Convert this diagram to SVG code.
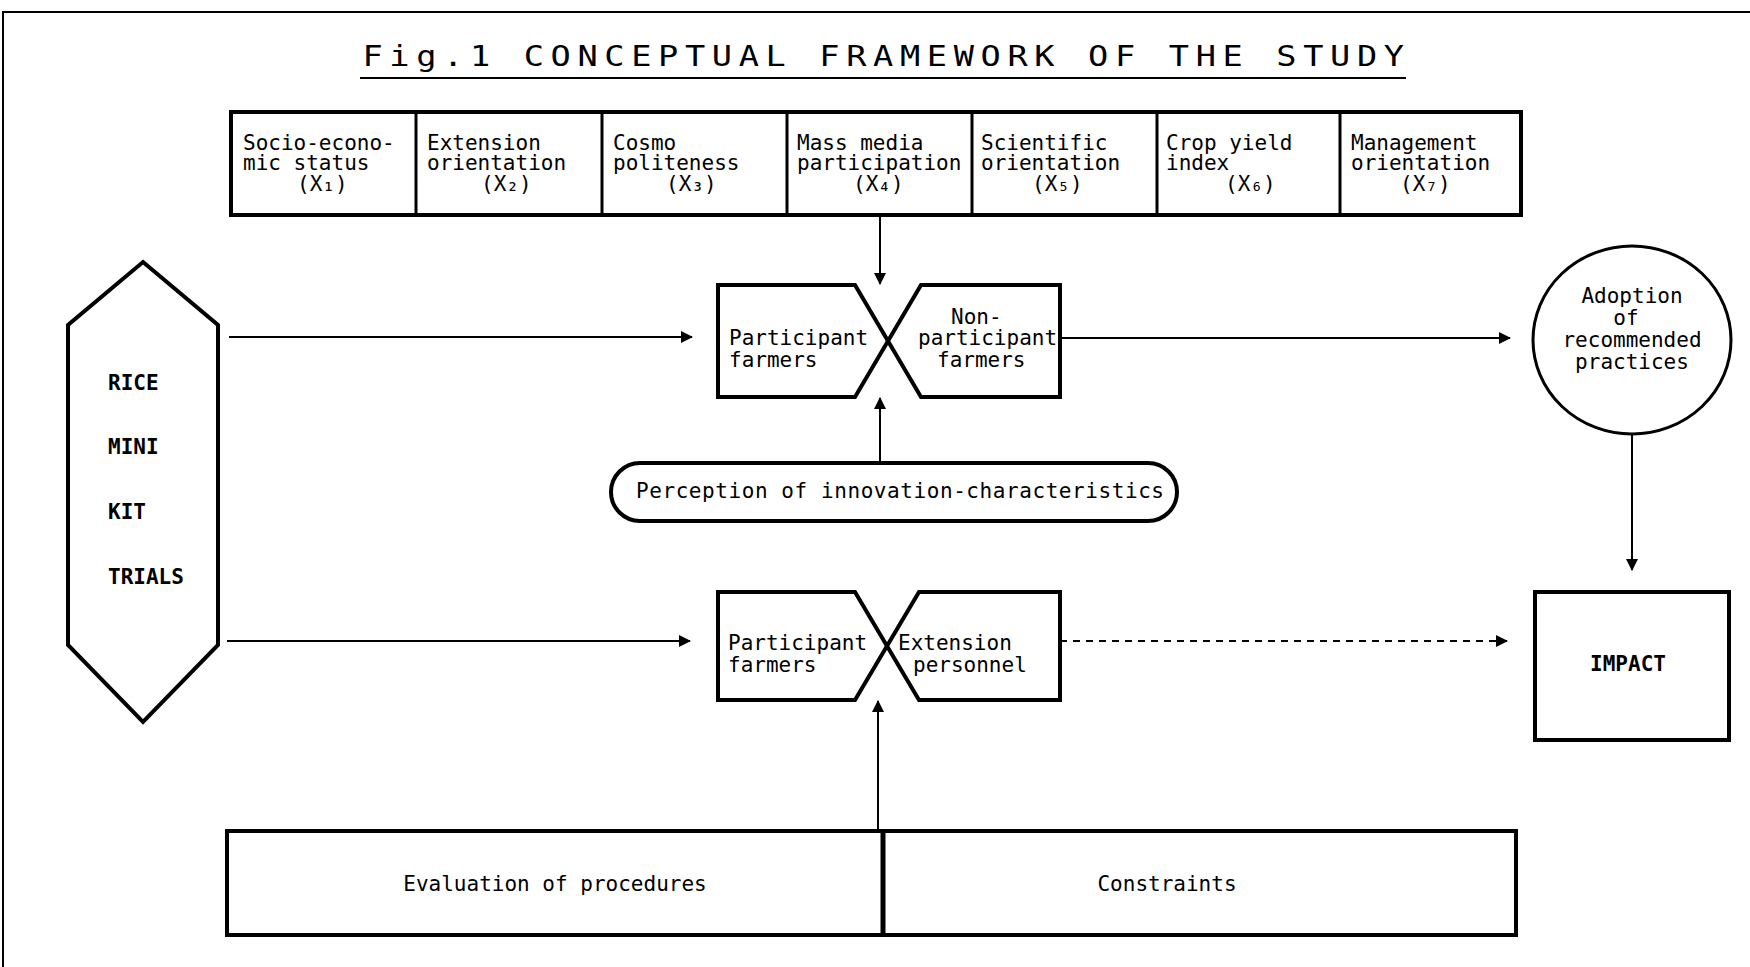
<svg xmlns="http://www.w3.org/2000/svg" width="1750" height="967" viewBox="0 0 1750 967">
<style>
  .t { font-family: "DejaVu Sans Mono", "Liberation Mono", monospace; font-size: 21px; fill: #000; }
  .title { font-family: "DejaVu Sans Mono", "Liberation Mono", monospace; font-size: 28px; fill: #000; }
  .b { font-weight: bold; }
  .box { fill: #fff; stroke: #000; stroke-width: 4; }
  .ln { stroke: #000; stroke-width: 2; fill: none; }
  .dash { stroke-dasharray: 7 6; }
</style>
<defs>
  <marker id="ah" viewBox="0 0 12 12" refX="11" refY="6" markerWidth="12" markerHeight="12" markerUnits="userSpaceOnUse" orient="auto">
    <path d="M0,0 L12,6 L0,12 Z" fill="#000"/>
  </marker>
</defs>
<rect width="1750" height="967" fill="#fff"/>
<path d="M3,967 V12 H1750" fill="none" stroke="#000" stroke-width="2"/>

<g id="title">
  <text class="title" transform="scale(1.2,1)" x="302" y="66" textLength="868" lengthAdjust="spacing">Fig.1  CONCEPTUAL FRAMEWORK OF THE STUDY</text>
  <line x1="360" y1="78" x2="1406" y2="78" stroke="#000" stroke-width="2"/>
</g>

<g id="factors">
  <rect class="box" x="231" y="112" width="1290" height="103"/>
  <g stroke="#000" stroke-width="3">
    <line x1="416" y1="112" x2="416" y2="215"/>
    <line x1="602" y1="112" x2="602" y2="215"/>
    <line x1="787" y1="112" x2="787" y2="215"/>
    <line x1="972" y1="112" x2="972" y2="215"/>
    <line x1="1157" y1="112" x2="1157" y2="215"/>
    <line x1="1340" y1="112" x2="1340" y2="215"/>
  </g>
  <g id="x1"><text class="t" x="243" y="150">Socio-econo-</text><text class="t" x="243" y="170">mic status</text><text class="t" x="297" y="191">(X₁)</text></g>
  <g id="x2"><text class="t" x="427" y="150">Extension</text><text class="t" x="427" y="170">orientation</text><text class="t" x="481" y="191">(X₂)</text></g>
  <g id="x3"><text class="t" x="613" y="150">Cosmo</text><text class="t" x="613" y="170">politeness</text><text class="t" x="666" y="191">(X₃)</text></g>
  <g id="x4"><text class="t" x="797" y="150">Mass media</text><text class="t" x="797" y="170">participation</text><text class="t" x="853" y="191">(X₄)</text></g>
  <g id="x5"><text class="t" x="981" y="150">Scientific</text><text class="t" x="981" y="170">orientation</text><text class="t" x="1032" y="191">(X₅)</text></g>
  <g id="x6"><text class="t" x="1166" y="150">Crop yield</text><text class="t" x="1166" y="170">index</text><text class="t" x="1225" y="191">(X₆)</text></g>
  <g id="x7"><text class="t" x="1351" y="150">Management</text><text class="t" x="1351" y="170">orientation</text><text class="t" x="1400" y="191">(X₇)</text></g>
</g>

<g id="rice">
  <polygon class="box" points="143,262 218,325 218,645 143,722 68,645 68,325"/>
  <text class="t b" x="108" y="390">RICE</text>
  <text class="t b" x="108" y="454">MINI</text>
  <text class="t b" x="108" y="519">KIT</text>
  <text class="t b" x="108" y="584">TRIALS</text>
</g>

<g id="farmers">
  <polygon class="box" points="718,285 855,285 888,341 855,397 718,397"/>
  <polygon class="box" points="1060,285 921,285 888,341 921,397 1060,397"/>
  <text class="t" x="729" y="345">Participant</text>
  <text class="t" x="729" y="367">farmers</text>
  <text class="t" x="951" y="324">Non-</text>
  <text class="t" x="918" y="345">participant</text>
  <text class="t" x="937" y="367">farmers</text>
</g>

<g id="perception">
  <rect class="box" x="611" y="463" width="566" height="58" rx="29" ry="29"/>
  <text class="t" x="636" y="498" textLength="528" lengthAdjust="spacing">Perception of innovation-characteristics</text>
</g>

<g id="extension">
  <polygon class="box" points="718,592 855,592 887,646 855,700 718,700"/>
  <polygon class="box" points="1060,592 919,592 887,646 919,700 1060,700"/>
  <text class="t" x="728" y="650">Participant</text>
  <text class="t" x="728" y="672">farmers</text>
  <text class="t" x="898" y="650">Extension</text>
  <text class="t" x="913" y="672">personnel</text>
</g>

<g id="adoption">
  <ellipse cx="1632" cy="340" rx="99" ry="94" fill="#fff" stroke="#000" stroke-width="3"/>
  <text class="t" x="1632" y="303" text-anchor="middle">Adoption</text>
  <text class="t" x="1626" y="325" text-anchor="middle">of</text>
  <text class="t" x="1632" y="347" text-anchor="middle">recommended</text>
  <text class="t" x="1632" y="369" text-anchor="middle">practices</text>
</g>

<g id="impact">
  <rect class="box" x="1535" y="592" width="194" height="148"/>
  <text class="t b" x="1628" y="671" text-anchor="middle">IMPACT</text>
</g>

<g id="bottom">
  <rect class="box" x="227" y="831" width="1289" height="104"/>
  <line x1="883" y1="831" x2="883" y2="935" stroke="#000" stroke-width="5"/>
  <text class="t" x="555" y="891" text-anchor="middle">Evaluation of procedures</text>
  <text class="t" x="1167" y="891" text-anchor="middle">Constraints</text>
</g>

<g id="connectors">
  <line class="ln" x1="880" y1="215" x2="880" y2="284" marker-end="url(#ah)"/>
  <line class="ln" x1="229" y1="337" x2="692" y2="337" marker-end="url(#ah)"/>
  <line class="ln" x1="1060" y1="338" x2="1510" y2="338" marker-end="url(#ah)"/>
  <line class="ln" x1="880" y1="463" x2="880" y2="398" marker-end="url(#ah)"/>
  <line class="ln" x1="1632" y1="434" x2="1632" y2="570" marker-end="url(#ah)"/>
  <line class="ln" x1="227" y1="641" x2="690" y2="641" marker-end="url(#ah)"/>
  <line class="ln dash" x1="1060" y1="641" x2="1507" y2="641" marker-end="url(#ah)"/>
  <line class="ln" x1="878" y1="831" x2="878" y2="701" marker-end="url(#ah)"/>
</g>
</svg>
